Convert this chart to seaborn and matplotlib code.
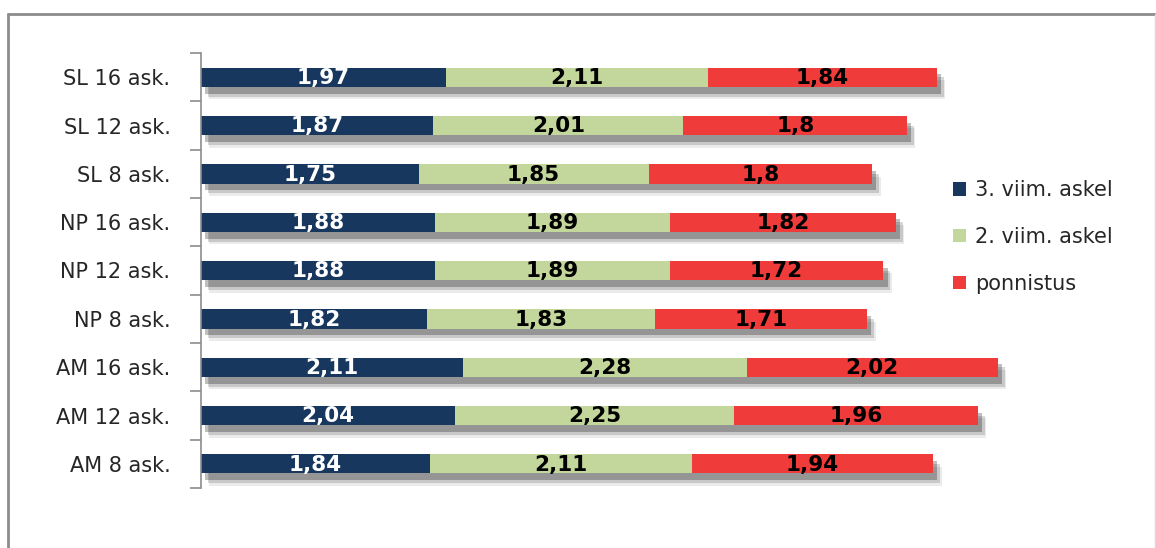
import matplotlib
matplotlib.use("Agg")
import matplotlib.pyplot as plt
import matplotlib.patheffects as pe
from matplotlib.patches import Patch
from matplotlib.lines import Line2D
import numpy as np
import pandas as pd
import seaborn as sns

# Categories (top to bottom) and step lengths per phase
categories = ["SL 16 ask.", "SL 12 ask.", "SL 8 ask.",
              "NP 16 ask.", "NP 12 ask.", "NP 8 ask.",
              "AM 16 ask.", "AM 12 ask.", "AM 8 ask."]
third_last = [1.97, 1.87, 1.75, 1.88, 1.88, 1.82, 2.11, 2.04, 1.84]
second_last = [2.11, 2.01, 1.85, 1.89, 1.89, 1.83, 2.28, 2.25, 2.11]
takeoff = [1.84, 1.80, 1.80, 1.82, 1.72, 1.71, 2.02, 1.96, 1.94]
series_names = ["3. viim. askel", "2. viim. askel", "ponnistus"]

colors = ["#17375E", "#C3D69B", "#EF3B3A"]
label_colors = ["white", "black", "black"]

sns.set_theme(style="white")
plt.rcParams["font.family"] = ["DejaVu Sans"]

df = pd.DataFrame({"cat": categories, "s1": third_last, "s2": second_last, "s3": takeoff})
df["c1"] = df["s1"]
df["c2"] = df["s1"] + df["s2"]
df["c3"] = df["c2"] + df["s3"]

fig = plt.figure(figsize=(11.56, 5.48), dpi=100)
ax = fig.add_axes([201 / 1156, 60 / 548, 808 / 1156, 435 / 548])

shadow = [
    pe.SimplePatchShadow(offset=(6, -9), shadow_rgbFace="#000000", alpha=0.08),
    pe.SimplePatchShadow(offset=(5, -7), shadow_rgbFace="#000000", alpha=0.15),
    pe.SimplePatchShadow(offset=(3, -5), shadow_rgbFace="#000000", alpha=0.25),
    pe.Normal(),
]

# Stacked bars drawn from the cumulative totals, longest first
for i, col in enumerate(["c3", "c2", "c1"]):
    sns.barplot(data=df, x=col, y="cat", order=categories, orient="h",
                color=colors[2 - i], saturation=1, width=0.4,
                linewidth=0, ax=ax,
                **({"path_effects": shadow} if i == 0 else {}))

# Segment value labels
vals = [third_last, second_last, takeoff]
starts = [np.zeros(len(categories)), df["c1"].values, df["c2"].values]
for k in range(3):
    for j, v in enumerate(vals[k]):
        ax.text(starts[k][j] + v / 2, j + 0.02, f"{v:g}".replace(".", ","),
                ha="center", va="center", fontsize=15.5, fontweight="bold",
                color=label_colors[k])

ax.set_xlim(0, 6.5)
ax.set_ylim(len(categories) - 0.5, -0.5)
ax.set_xlabel("")
ax.set_ylabel("")
ax.set_xticks([])
for s in ["top", "right", "bottom"]:
    ax.spines[s].set_visible(False)
ax.spines["left"].set_color("#8c8c8c")
ax.spines["left"].set_linewidth(1.2)
ax.set_yticks(range(len(categories)))
ax.set_yticklabels(categories, fontsize=15, color="#262626")
ax.tick_params(axis="y", which="major", length=0, pad=22)
ax.set_yticks(np.arange(-0.5, len(categories)), minor=True)
ax.tick_params(axis="y", which="minor", length=8, width=1.2, color="#8c8c8c", left=True)

handles = [Patch(facecolor=c, edgecolor="none") for c in colors]
fig.legend(handles, series_names, loc="upper left",
           bbox_to_anchor=(943 / 1156, 1 - 170 / 548), frameon=False,
           fontsize=15, handlelength=0.6, handleheight=0.6,
           handletextpad=0.45, labelspacing=1.28, borderpad=0,
           labelcolor="#262626")

# Outer chart frame
fig.add_artist(Line2D([8 / 1156, 8 / 1156], [-0.01, 1 - 14 / 548],
                      transform=fig.transFigure, color="#8c8c8c", lw=2))
fig.add_artist(Line2D([8 / 1156, 1155 / 1156], [1 - 14 / 548, 1 - 14 / 548],
                      transform=fig.transFigure, color="#8c8c8c", lw=2))
fig.add_artist(Line2D([1154.5 / 1156, 1154.5 / 1156], [-0.01, 1 - 14 / 548],
                      transform=fig.transFigure, color="#d9d9d9", lw=1))

fig.savefig("out.png", dpi=100)
